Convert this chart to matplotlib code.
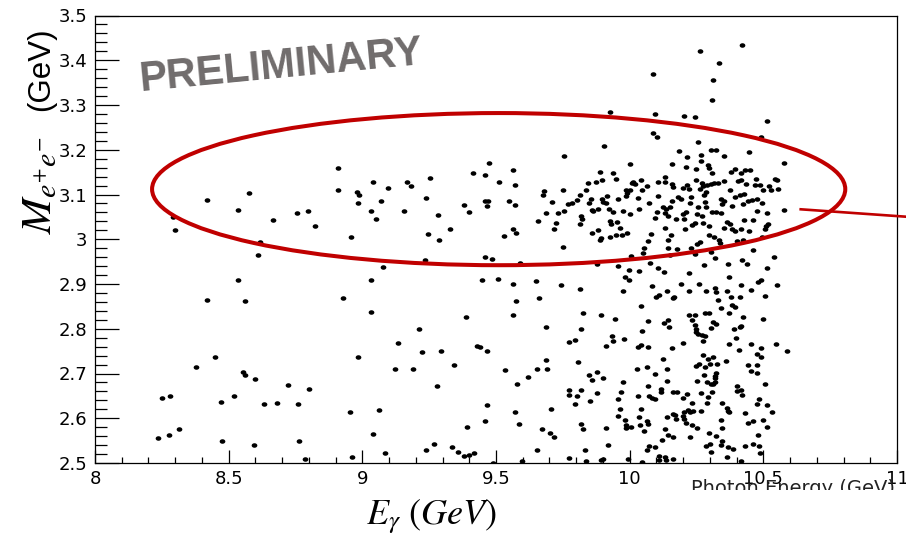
import numpy as np
import matplotlib
matplotlib.use("Agg")
import matplotlib.pyplot as plt
from matplotlib.patches import Ellipse, Rectangle
from matplotlib.path import Path
from matplotlib.lines import Line2D
from matplotlib.ticker import MultipleLocator, FuncFormatter

plt.rcParams["mathtext.fontset"] = "stix"

# Candidate events: (photon energy E_gamma [GeV], dielectron mass M_ee [GeV])
events_low_e = [
    (8.420, 3.087), (8.577, 3.103), (8.535, 3.065), (8.667, 3.043), (8.756, 3.059),
    (8.293, 3.050), (8.300, 3.021), (8.617, 2.993), (8.609, 2.965), (8.534, 2.909),
    (8.420, 2.865), (8.560, 2.862), (8.449, 2.736), (8.377, 2.715), (8.252, 2.645),
    (8.281, 2.650), (8.236, 2.556), (8.277, 2.562), (8.314, 2.575), (8.470, 2.637),
    (8.520, 2.649), (8.555, 2.703), (8.561, 2.697), (8.600, 2.688), (8.474, 2.550),
    (8.594, 2.540), (8.633, 2.632), (8.680, 2.633), (8.723, 2.674), (8.758, 2.632),
    (8.763, 2.549),
]

events_mid_e = [
    (8.909, 3.159), (8.909, 3.111), (8.981, 3.106), (8.988, 3.100), (8.985, 3.081),
    (9.041, 3.127), (9.095, 3.114), (9.069, 3.085), (9.031, 3.064), (9.051, 3.046),
    (8.798, 3.064), (8.824, 3.029), (8.959, 3.006), (9.156, 3.063), (9.167, 3.128),
    (9.183, 3.118), (9.253, 3.136), (9.239, 3.092), (9.284, 3.054), (9.247, 3.012),
    (9.287, 2.999), (9.327, 3.024), (9.235, 2.953), (9.076, 2.939), (9.031, 2.910),
    (8.929, 2.869), (9.031, 2.838), (9.380, 3.077), (9.399, 3.062), (9.415, 3.147),
    (9.459, 3.144), (9.475, 3.170), (9.512, 3.128), (9.565, 3.154), (9.572, 3.121),
    (9.457, 3.086), (9.469, 3.086), (9.468, 3.075), (9.547, 3.085), (9.571, 3.076),
    (9.565, 3.024), (9.575, 3.014), (9.529, 3.008), (9.658, 3.040), (9.458, 2.960),
    (9.485, 2.956), (9.590, 2.947), (9.449, 2.909), (9.508, 2.911), (9.565, 2.901),
    (9.650, 2.906), (9.575, 2.862), (9.662, 2.869), (9.563, 2.830), (9.388, 2.826),
    (9.211, 2.799), (9.135, 2.768), (9.224, 2.748), (9.293, 2.751), (8.984, 2.736),
    (9.122, 2.711), (9.188, 2.710), (9.343, 2.720), (9.430, 2.762), (9.440, 2.759),
    (9.467, 2.751), (9.535, 2.708), (9.579, 2.677), (9.619, 2.693), (9.655, 2.711),
    (9.279, 2.672), (8.802, 2.665), (8.953, 2.614), (9.064, 2.618), (9.039, 2.565),
    (8.787, 2.510), (8.961, 2.513), (9.086, 2.522), (9.239, 2.528), (9.268, 2.543),
    (9.336, 2.536), (9.359, 2.525), (9.379, 2.516), (9.399, 2.518), (9.419, 2.523),
    (9.488, 2.501), (9.391, 2.581), (9.457, 2.593), (9.467, 2.629), (9.570, 2.614),
    (9.586, 2.587), (9.652, 2.528), (9.599, 2.505),
]

events_high_mass = [
    (10.089, 3.370), (9.927, 3.285), (10.093, 3.281), (10.088, 3.238), (10.104, 3.229),
    (9.905, 3.208), (9.755, 3.185), (10.003, 3.169), (10.159, 3.168), (10.263, 3.420),
    (10.421, 3.433), (10.333, 3.394), (10.312, 3.355), (10.309, 3.311), (10.202, 3.276),
    (10.243, 3.273), (10.513, 3.264), (10.490, 3.229), (10.254, 3.217), (10.184, 3.198),
    (10.216, 3.183), (10.266, 3.189), (10.306, 3.200), (10.324, 3.200), (10.352, 3.185),
    (10.445, 3.195), (10.266, 3.174), (10.292, 3.167), (10.576, 3.171),
]

events_jpsi_band_a = [
    (9.890, 3.150), (9.939, 3.147), (9.949, 3.134), (9.895, 3.132), (9.874, 3.129),
    (9.846, 3.126), (9.750, 3.111), (9.681, 3.108), (9.676, 3.098), (9.835, 3.109),
    (9.815, 3.098), (9.802, 3.088), (9.786, 3.082), (9.770, 3.079), (9.710, 3.084),
    (9.857, 3.091), (9.848, 3.080), (9.917, 3.097), (9.897, 3.090), (9.902, 3.084),
    (9.912, 3.081), (9.957, 3.091), (9.989, 3.103), (9.986, 3.109), (10.001, 3.111),
    (10.009, 3.126), (10.019, 3.124), (10.014, 3.129), (10.044, 3.133), (10.066, 3.120),
    (10.047, 3.109), (10.107, 3.128), (10.132, 3.138), (10.133, 3.128), (10.159, 3.124),
    (10.105, 3.096), (10.031, 3.092), (9.986, 3.096), (10.071, 3.082), (10.036, 3.068),
    (10.001, 3.056), (9.976, 3.064), (9.939, 3.061), (9.923, 3.068), (9.883, 3.068),
    (9.858, 3.066), (9.864, 3.064), (9.755, 3.064), (9.733, 3.059), (9.688, 3.059),
    (9.726, 3.036), (9.716, 3.024), (9.818, 3.051), (9.820, 3.046), (9.813, 3.035),
    (9.927, 3.041), (9.932, 3.033), (9.952, 3.038), (9.964, 3.025), (9.883, 3.021),
    (9.858, 3.014), (9.892, 3.002), (9.888, 2.998), (9.927, 3.006), (9.949, 3.009),
    (9.970, 3.010), (9.991, 3.015), (10.104, 3.062), (10.095, 3.047), (10.132, 3.058),
    (10.136, 3.068), (10.126, 3.073), (10.151, 3.071), (10.144, 3.051), (10.131, 3.025),
    (10.079, 3.011), (10.067, 2.997), (10.054, 2.981), (10.051, 2.970), (10.145, 2.998),
    (10.156, 3.009), (10.144, 2.980), (10.150, 2.965), (9.750, 2.983), (10.004, 2.962),
    (9.879, 2.945), (9.955, 2.941), (9.996, 2.932), (10.035, 2.930), (10.077, 2.946),
    (10.106, 2.935), (10.127, 2.927), (9.983, 2.916), (9.998, 2.909), (9.742, 2.898),
    (9.814, 2.888), (9.974, 2.885), (10.084, 2.896), (10.140, 2.885), (10.111, 2.876),
    (10.100, 2.872), (10.165, 2.870), (10.041, 2.851),
]

events_jpsi_band_b = [
    (10.210, 3.162), (10.247, 3.158), (10.298, 3.160), (10.309, 3.149), (10.378, 3.151),
    (10.395, 3.158), (10.415, 3.147), (10.432, 3.155), (10.450, 3.155), (10.162, 3.117),
    (10.198, 3.115), (10.216, 3.122), (10.222, 3.112), (10.249, 3.133), (10.269, 3.126),
    (10.275, 3.118), (10.288, 3.122), (10.303, 3.124), (10.315, 3.126), (10.332, 3.126),
    (10.263, 3.112), (10.284, 3.106), (10.277, 3.100), (10.353, 3.131), (10.407, 3.131),
    (10.418, 3.132), (10.437, 3.123), (10.474, 3.135), (10.470, 3.122), (10.488, 3.122),
    (10.520, 3.120), (10.529, 3.111), (10.499, 3.110), (10.544, 3.135), (10.552, 3.132),
    (10.556, 3.113), (10.377, 3.109), (10.427, 3.101), (10.394, 3.094), (10.413, 3.099),
    (10.342, 3.091), (10.352, 3.085), (10.347, 3.079), (10.283, 3.084), (10.228, 3.094),
    (10.181, 3.094), (10.191, 3.091), (10.159, 3.085), (10.224, 3.081), (10.256, 3.071),
    (10.284, 3.073), (10.307, 3.062), (10.323, 3.061), (10.341, 3.059), (10.383, 3.075),
    (10.425, 3.079), (10.441, 3.085), (10.459, 3.088), (10.477, 3.091), (10.494, 3.081),
    (10.477, 3.064), (10.513, 3.059), (10.576, 3.066), (10.212, 3.061), (10.198, 3.056),
    (10.175, 3.046), (10.202, 3.046), (10.253, 3.057), (10.272, 3.051), (10.243, 3.036),
    (10.235, 3.031), (10.275, 3.036), (10.206, 3.022), (10.298, 3.029), (10.364, 3.039),
    (10.377, 3.034), (10.351, 3.026), (10.382, 3.023), (10.395, 3.018), (10.415, 3.023),
    (10.445, 3.019), (10.427, 3.044), (10.460, 3.044), (10.516, 3.035), (10.511, 3.029),
    (10.506, 3.023), (10.296, 3.009), (10.317, 3.005), (10.333, 2.998), (10.337, 2.992),
    (10.262, 2.993), (10.251, 2.990), (10.231, 2.980), (10.176, 2.979), (10.400, 2.997),
    (10.424, 2.999), (10.494, 3.006), (10.463, 2.976), (10.303, 2.972), (10.245, 2.967),
    (10.319, 2.957), (10.541, 2.961), (10.279, 2.942), (10.367, 2.945), (10.419, 2.954),
    (10.438, 2.945), (10.513, 2.936), (10.221, 2.924), (10.372, 2.915), (10.490, 2.908),
    (10.480, 2.905), (10.192, 2.901), (10.258, 2.901), (10.417, 2.898), (10.551, 2.897),
    (10.223, 2.885), (10.284, 2.885), (10.318, 2.891), (10.324, 2.883), (10.363, 2.885),
    (10.453, 2.887), (10.163, 2.869), (10.329, 2.864), (10.380, 2.871), (10.414, 2.871),
    (10.508, 2.874), (10.343, 2.847), (10.384, 2.852), (10.393, 2.848),
]

events_low_mass_a = [
    (9.827, 2.836), (9.893, 2.831), (9.945, 2.821), (10.067, 2.818), (10.128, 2.812),
    (10.144, 2.819), (10.148, 2.804), (9.688, 2.804), (9.817, 2.799), (10.045, 2.795),
    (9.773, 2.770), (9.797, 2.774), (9.935, 2.783), (9.938, 2.773), (9.979, 2.776),
    (9.913, 2.761), (10.030, 2.760), (10.043, 2.763), (10.067, 2.760), (10.157, 2.758),
    (10.126, 2.733), (9.688, 2.730), (9.692, 2.710), (9.806, 2.725), (10.140, 2.711),
    (10.064, 2.715), (10.026, 2.710), (10.095, 2.700), (9.847, 2.696), (9.877, 2.704),
    (9.859, 2.685), (9.900, 2.690), (10.141, 2.684), (9.975, 2.681), (10.067, 2.671),
    (10.116, 2.666), (10.117, 2.658), (10.162, 2.658), (9.772, 2.664), (9.817, 2.663),
    (9.772, 2.651), (9.802, 2.650), (9.878, 2.657), (9.968, 2.659), (10.031, 2.650),
    (10.071, 2.649), (10.084, 2.645), (10.095, 2.643), (9.957, 2.642), (9.796, 2.632),
    (9.851, 2.639), (10.041, 2.621), (9.964, 2.621), (9.705, 2.621), (9.958, 2.604),
    (10.034, 2.603), (10.140, 2.603), (9.981, 2.595), (9.986, 2.585), (9.985, 2.579),
    (10.004, 2.581), (10.040, 2.585), (10.066, 2.594), (10.067, 2.587), (10.054, 2.572),
    (9.912, 2.579), (9.818, 2.587), (9.824, 2.575), (9.673, 2.576), (9.703, 2.566),
    (9.717, 2.559), (10.131, 2.575), (10.145, 2.563), (10.121, 2.552), (10.163, 2.558),
    (9.918, 2.540), (10.073, 2.539), (10.095, 2.536), (10.064, 2.528), (9.833, 2.530),
    (9.773, 2.512), (9.836, 2.505), (9.893, 2.506), (9.902, 2.509), (9.992, 2.510),
    (10.047, 2.502), (10.109, 2.516), (10.109, 2.507), (10.131, 2.514), (10.135, 2.507),
    (10.162, 2.508), (10.170, 2.607),
]

events_low_mass_b = [
    (10.283, 2.836), (10.296, 2.836), (10.221, 2.830), (10.246, 2.830), (10.370, 2.835),
    (10.423, 2.826), (10.499, 2.821), (10.233, 2.819), (10.313, 2.816), (10.323, 2.811),
    (10.243, 2.809), (10.417, 2.807), (10.411, 2.803), (10.391, 2.800), (10.303, 2.802),
    (10.247, 2.800), (10.248, 2.792), (10.256, 2.788), (10.269, 2.786), (10.281, 2.783),
    (10.399, 2.780), (10.275, 2.772), (10.198, 2.769), (10.373, 2.767), (10.455, 2.766),
    (10.493, 2.757), (10.548, 2.766), (10.589, 2.751), (10.408, 2.753), (10.477, 2.744),
    (10.490, 2.737), (10.273, 2.741), (10.294, 2.733), (10.310, 2.736), (10.301, 2.722),
    (10.326, 2.722), (10.361, 2.727), (10.258, 2.721), (10.247, 2.717), (10.283, 2.715),
    (10.441, 2.719), (10.475, 2.718), (10.454, 2.706), (10.477, 2.701), (10.324, 2.701),
    (10.321, 2.694), (10.279, 2.696), (10.318, 2.689), (10.288, 2.681), (10.303, 2.677),
    (10.313, 2.677), (10.318, 2.681), (10.251, 2.683), (10.505, 2.676), (10.400, 2.672),
    (10.418, 2.664), (10.400, 2.660), (10.420, 2.652), (10.176, 2.658), (10.215, 2.654),
    (10.266, 2.657), (10.307, 2.658), (10.198, 2.645), (10.294, 2.647), (10.483, 2.643),
    (10.475, 2.631), (10.515, 2.630), (10.232, 2.633), (10.291, 2.634), (10.347, 2.634),
    (10.363, 2.622), (10.368, 2.617), (10.373, 2.613), (10.430, 2.612), (10.533, 2.613),
    (10.163, 2.609), (10.217, 2.619), (10.226, 2.613), (10.238, 2.616), (10.266, 2.616),
    (10.203, 2.613), (10.200, 2.605), (10.172, 2.598), (10.203, 2.598), (10.210, 2.589),
    (10.233, 2.585), (10.251, 2.579), (10.342, 2.597), (10.347, 2.579), (10.441, 2.589),
    (10.460, 2.593), (10.498, 2.596), (10.513, 2.581), (10.297, 2.568), (10.323, 2.560),
    (10.479, 2.562), (10.226, 2.558), (10.345, 2.549), (10.342, 2.540), (10.299, 2.543),
    (10.284, 2.537), (10.303, 2.525), (10.368, 2.536), (10.388, 2.531), (10.430, 2.537),
    (10.460, 2.543), (10.482, 2.537), (10.488, 2.522), (10.363, 2.513), (10.417, 2.505),
]

# J/psi signal window drawn around the band (centre E, centre M, full widths)
jpsi_window = (9.51, 3.112, 2.593, 0.340)

all_events = (events_low_e + events_mid_e + events_high_mass + events_jpsi_band_a
              + events_jpsi_band_b + events_low_mass_a + events_low_mass_b)
e_gamma = np.array([p[0] for p in all_events])
m_ee = np.array([p[1] for p in all_events])

W, H = 906, 534
fig = plt.figure(figsize=(W / 100, H / 100), dpi=100)
ax = fig.add_axes([95 / W, 71 / H, 802 / W, 447.5 / H])

# slightly wide elliptical dot marker
t = np.linspace(0, 2 * np.pi, 41)
dot = Path(np.column_stack([1.25 * np.cos(t), np.sin(t)]), closed=True)
ax.plot(e_gamma, m_ee, linestyle="none", marker=dot, ms=4.1, color="black",
        markeredgewidth=0, zorder=2)

ax.set_xlim(8, 11)
ax.set_ylim(2.5, 3.5)
ax.xaxis.set_major_locator(MultipleLocator(0.5))
ax.xaxis.set_minor_locator(MultipleLocator(0.1))
ax.yaxis.set_major_locator(MultipleLocator(0.1))
ax.yaxis.set_minor_locator(MultipleLocator(0.02))
fmt = FuncFormatter(lambda v, _: f"{v:g}")
ax.xaxis.set_major_formatter(fmt)
ax.yaxis.set_major_formatter(fmt)
ax.tick_params(axis="y", which="major", direction="in", length=17.5, width=0.9,
               pad=5.8, labelsize=13)
ax.tick_params(axis="y", which="minor", direction="in", length=8.8, width=0.9)
ax.tick_params(axis="x", which="major", direction="in", length=9.5, width=0.9,
               pad=5, labelsize=13)
ax.tick_params(axis="x", which="minor", direction="in", length=4.5, width=0.9)
for sp in ax.spines.values():
    sp.set_linewidth(0.9)

cx, cy, w, h = jpsi_window
ax.add_patch(Ellipse((cx, cy), w, h, fill=False, edgecolor="#c00000",
                     linewidth=2.9, zorder=3, clip_on=False))

# pointer line running off to the right
fig.add_artist(Line2D([800.7 / W, 1.0], [1 - 209.3 / H, 1 - 216.7 / H],
                      color="#c00000", linewidth=1.9, zorder=4))

fig.text(140 / W, 1 - 91 / H, "PRELIMINARY", rotation=5.5, rotation_mode="anchor",
         ha="left", va="baseline", fontsize=30, fontweight="bold",
         family="Liberation Sans", color="#706c6c")

# original axis title, partly hidden by the overlaid label box
fig.text(895 / W, 1 - 479 / H, "Photon Energy (GeV)", ha="right", va="top",
         fontsize=14, color="#222222", zorder=4)
fig.add_artist(Rectangle((0.70, 0), 0.30, (H - 490) / H, transform=fig.transFigure,
                         facecolor="white", edgecolor="none", zorder=5))

fig.text(432 / W, 1 - 524 / H, r"$E_{\gamma}\ (GeV)$", ha="center", va="baseline",
         fontsize=26, zorder=6)

fig.text(51 / W, 1 - 234 / H, r"$M_{e^{+}e^{-}}$", rotation=90, rotation_mode="anchor",
         ha="left", va="baseline", fontsize=31, zorder=6)
fig.text(49 / W, 1 - 111 / H, "(GeV)", rotation=90, rotation_mode="anchor",
         ha="left", va="baseline", fontsize=22.5, family="Liberation Sans", zorder=6)

fig.savefig("out.png", dpi=100)
